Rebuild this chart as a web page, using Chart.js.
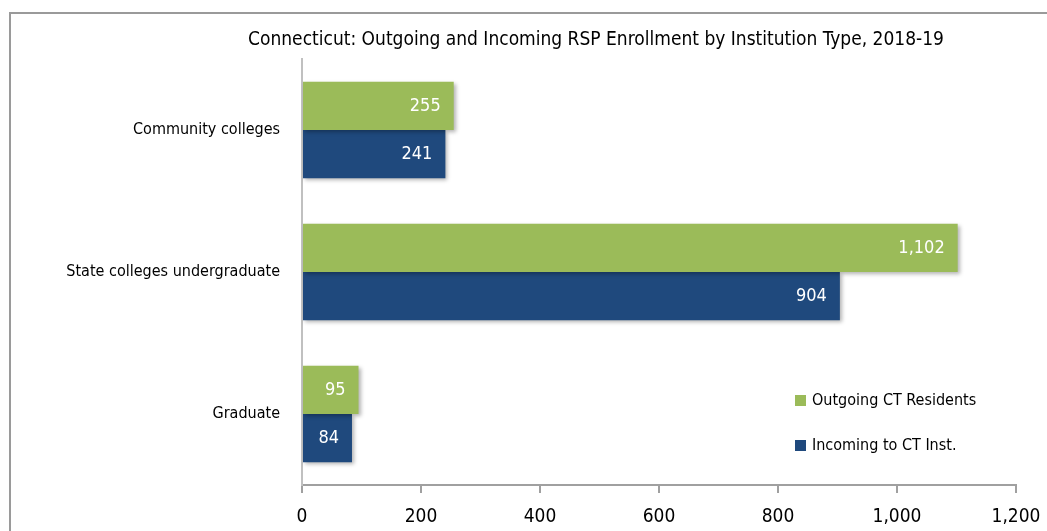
<!DOCTYPE html>
<html>
<head>
<meta charset="utf-8">
<script src="https://cdn.jsdelivr.net/npm/chart.js@4/dist/chart.umd.min.js"></script>
<style>
  html, body { margin: 0; padding: 0; background: #fff; }
  #wrap { position: relative; width: 1047px; height: 531px; }
</style>
</head>
<body>
<div id="wrap"><canvas id="rsp"></canvas></div>
<script>
const categories = ['Community colleges', 'State colleges undergraduate', 'Graduate'];
const outgoing = [255, 1102, 95];
const incoming = [241, 904, 84];
const xTicks = [0, 200, 400, 600, 800, 1000, 1200];
const outgoingLabel = 'Outgoing CT Residents';
const incomingLabel = 'Incoming to CT Inst.';

const FONT = '"Liberation Sans Narrow", "DejaVu Sans Condensed", "Roboto Condensed", Arial, sans-serif';
const GREEN = '#9BBB59';
const BLUE = '#1F497D';

// frame, title, legend and value labels drawn by hand
const extras = {
    id: 'extras',
    beforeDraw(chart) {
        const ctx = chart.ctx;
        ctx.save();
        ctx.strokeStyle = '#9a9a9a';
        ctx.lineWidth = 2;
        ctx.beginPath();
        ctx.moveTo(10, 540);
        ctx.lineTo(10, 13);
        ctx.lineTo(1060, 13);
        ctx.stroke();
        ctx.fillStyle = '#000';
        ctx.font = '19px ' + FONT;
        ctx.textAlign = 'center';
        ctx.textBaseline = 'middle';
        ctx.fillText('Connecticut: Outgoing and Incoming RSP Enrollment by Institution Type, 2018-19', 596, 40);
        ctx.restore();
    },
    beforeDatasetsDraw(chart) {
        const ctx = chart.ctx;
        ctx.save();
        ctx.shadowColor = 'rgba(0,0,0,0.3)';
        ctx.shadowBlur = 4;
        ctx.shadowOffsetX = 2;
        ctx.shadowOffsetY = 2;
    },
    afterDatasetsDraw(chart) {
        const ctx = chart.ctx;
        ctx.restore();
        ctx.save();
        ctx.fillStyle = '#fff';
        ctx.font = '18px ' + FONT;
        ctx.textAlign = 'right';
        ctx.textBaseline = 'middle';
        chart.data.datasets.forEach((ds, i) => {
            chart.getDatasetMeta(i).data.forEach((bar, j) => {
                ctx.fillText(ds.data[j].toLocaleString('en-US'), bar.x - 13, bar.y);
            });
        });
        // legend
        const items = [[outgoingLabel, GREEN, 401], [incomingLabel, BLUE, 446]];
        ctx.textAlign = 'left';
        ctx.font = '16px ' + FONT;
        items.forEach(([txt, col, y]) => {
            ctx.fillStyle = col;
            ctx.fillRect(795, y - 6, 11, 11);
            ctx.fillStyle = '#000';
            ctx.fillText(txt, 812, y);
        });
        ctx.restore();
    }
};

const rspChart = new Chart(document.getElementById('rsp').getContext('2d'), {
    type: 'bar',
    data: {
        labels: categories,
        datasets: [
            {
                label: outgoingLabel,
                data: outgoing,
                backgroundColor: GREEN,
                borderWidth: 0,
                categoryPercentage: 0.68,
                barPercentage: 1.0,
            },
            {
                label: incomingLabel,
                data: incoming,
                backgroundColor: BLUE,
                borderWidth: 0,
                categoryPercentage: 0.68,
                barPercentage: 1.0,
            }
        ]
    },
    options: {
        indexAxis: 'y',
        responsive: true,
        maintainAspectRatio: false,
        animation: false,
        layout: {
            padding: { top: 59, right: 31, left: 0, bottom: 0 }
        },
        scales: {
            x: {
                min: 0,
                max: 1200,
                afterBuildTicks(scale) {
                    scale.ticks = xTicks.map(v => ({ value: v }));
                },
                afterFit(scale) {
                    scale.height = 46;
                    scale.paddingLeft = 0;
                    scale.paddingRight = 0;
                },
                grid: {
                    display: true,
                    drawOnChartArea: false,
                    drawTicks: true,
                    tickLength: 8,
                    color: '#a0a0a0',
                    lineWidth: 2
                },
                border: { color: '#a0a0a0', width: 2 },
                ticks: {
                    color: '#000',
                    padding: 13,
                    maxRotation: 0,
                    font: { family: FONT, size: 19 },
                    callback: v => v.toLocaleString('en-US')
                }
            },
            y: {
                afterFit(scale) {
                    scale.width = 302;
                },
                grid: { display: false },
                border: { color: '#c0c0c0', width: 2 },
                ticks: {
                    color: '#000',
                    padding: 14,
                    font: { family: FONT, size: 16 }
                }
            }
        },
        plugins: {
            legend: { display: false },
            title: { display: false },
            tooltip: { enabled: false }
        }
    },
    plugins: [extras]
});
window.rspChart = rspChart;
</script>
</body>
</html>
